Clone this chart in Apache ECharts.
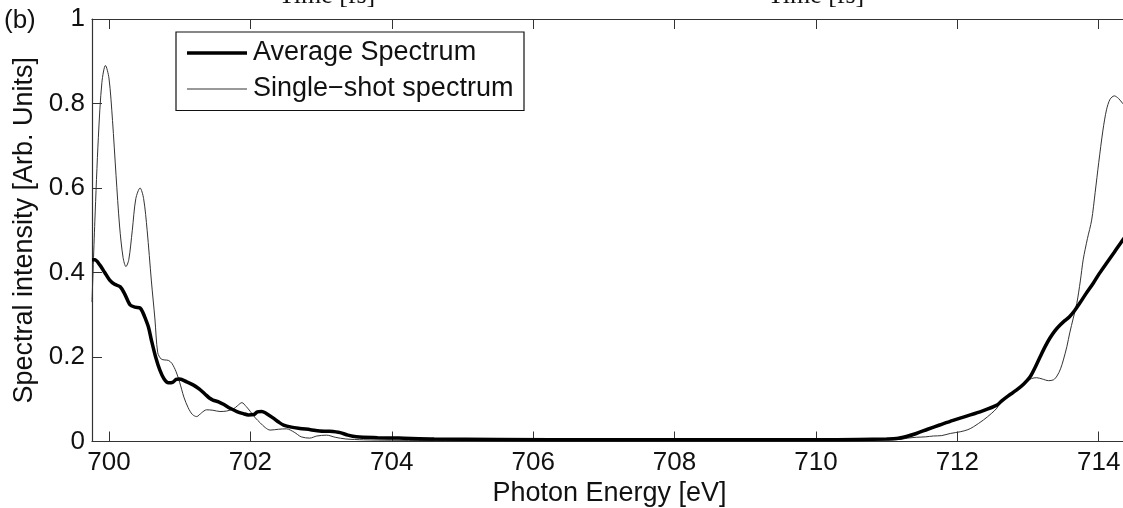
<!DOCTYPE html>
<html>
<head>
<meta charset="utf-8">
<script src="https://cdn.jsdelivr.net/npm/echarts@6/dist/echarts.min.js"></script>
<style>
  html, body { margin: 0; padding: 0; background: #fff; }
  #chart { width: 1123px; height: 508px; }
</style>
</head>
<body>
<div id="chart"></div>
<script>
// Photon energy axis range [eV]
const energyMin = 699.76;
const energyMax = 714.4;

// Average spectrum (thick line)
const avgEnergy = [
  699.76, 699.80, 699.87, 699.94, 700.01, 700.08, 700.16, 700.22, 700.30, 700.37,
  700.44, 700.48, 700.51, 700.56, 700.60, 700.66, 700.72, 700.78, 700.84, 700.90,
  700.95, 701.00, 701.10, 701.19, 701.28, 701.36, 701.42, 701.47, 701.55, 701.62,
  701.72, 701.81, 701.90, 701.97, 702.05, 702.10, 702.16, 702.22, 702.32, 702.40,
  702.47, 702.58, 702.70, 702.85, 702.98, 703.12, 703.27, 703.38, 703.50, 703.80,
  704.10, 704.60, 705.50, 707.00, 709.00, 710.00, 710.60, 711.00, 711.14, 711.28,
  711.42, 711.58, 711.75, 711.94, 712.13, 712.35, 712.56, 712.62, 712.72, 712.84,
  712.94, 713.03, 713.10, 713.17, 713.24, 713.31, 713.38, 713.45, 713.52, 713.59,
  713.66, 713.73, 713.82, 713.92, 714.01, 714.11, 714.22, 714.34, 714.40
];
const avgValues = [
  0.430, 0.430, 0.418, 0.400, 0.382, 0.372, 0.366, 0.350, 0.323, 0.318,
  0.316, 0.305, 0.293, 0.270, 0.240, 0.200, 0.169, 0.148, 0.139, 0.140,
  0.147, 0.148, 0.141, 0.134, 0.124, 0.112, 0.103, 0.098, 0.094, 0.088,
  0.078, 0.071, 0.066, 0.063, 0.064, 0.070, 0.071, 0.067, 0.056, 0.046,
  0.039, 0.034, 0.031, 0.028, 0.025, 0.024, 0.021, 0.015, 0.011, 0.009,
  0.008, 0.006, 0.005, 0.004, 0.004, 0.004, 0.005, 0.006, 0.007, 0.012,
  0.019, 0.029, 0.039, 0.050, 0.060, 0.072, 0.086, 0.095, 0.108, 0.122,
  0.136, 0.153, 0.175, 0.200, 0.224, 0.245, 0.262, 0.275, 0.286, 0.296,
  0.310, 0.327, 0.350, 0.374, 0.398, 0.422, 0.448, 0.477, 0.490
];

// Single-shot spectrum (thin line)
const shotEnergy = [
  699.76, 699.80, 699.85, 699.90, 699.95, 700.00, 700.05, 700.10, 700.15, 700.20,
  700.24, 700.28, 700.33, 700.38, 700.44, 700.49, 700.54, 700.60, 700.65, 700.69,
  700.74, 700.79, 700.84, 700.89, 700.95, 701.00, 701.06, 701.12, 701.18, 701.24,
  701.31, 701.38, 701.47, 701.57, 701.66, 701.76, 701.82, 701.88, 701.94, 702.00,
  702.07, 702.14, 702.21, 702.28, 702.40, 702.51, 702.62, 702.72, 702.84, 702.94,
  703.08, 703.20, 703.35, 703.60, 704.00, 705.00, 707.00, 709.00, 710.50, 711.00,
  711.19, 711.30, 711.42, 711.55, 711.66, 711.78, 711.90, 712.04, 712.15, 712.23,
  712.37, 712.48, 712.56, 712.60, 712.70, 712.81, 712.90, 712.98, 713.05, 713.12,
  713.20, 713.29, 713.36, 713.41, 713.46, 713.50, 713.55, 713.59, 713.64, 713.69,
  713.74, 713.78, 713.84, 713.90, 713.95, 714.00, 714.06, 714.11, 714.16, 714.22,
  714.28, 714.34, 714.40
];
const shotValues = [
  0.330, 0.520, 0.720, 0.850, 0.890, 0.860, 0.760, 0.630, 0.510, 0.435,
  0.414, 0.430, 0.500, 0.575, 0.600, 0.575, 0.500, 0.380, 0.290, 0.210,
  0.195, 0.193, 0.192, 0.185, 0.165, 0.140, 0.105, 0.080, 0.064, 0.059,
  0.068, 0.075, 0.074, 0.071, 0.072, 0.077, 0.085, 0.092, 0.083, 0.071,
  0.056, 0.044, 0.033, 0.027, 0.029, 0.030, 0.022, 0.011, 0.008, 0.013,
  0.015, 0.010, 0.006, 0.004, 0.003, 0.002, 0.002, 0.002, 0.003, 0.004,
  0.005, 0.008, 0.010, 0.011, 0.013, 0.014, 0.019, 0.023, 0.028, 0.035,
  0.051, 0.066, 0.079, 0.090, 0.104, 0.118, 0.131, 0.142, 0.149, 0.151,
  0.148, 0.144, 0.146, 0.155, 0.172, 0.193, 0.225, 0.257, 0.292, 0.327,
  0.380, 0.430, 0.480, 0.524, 0.590, 0.660, 0.737, 0.785, 0.810, 0.818,
  0.812, 0.800, 0.790
];

// Axis ticks
const energyTickStep = 2;
const intensityTicks = [0, 0.2, 0.4, 0.6, 0.8, 1];

// Legend entries and panel captions
const seriesNames = ['Average Spectrum', 'Single\u2212shot spectrum'];
const panelLabel = '(b)';
const upperAxisName = 'Time [fs]';

const pairs = (xs, ys) => xs.map((x, i) => [x, ys[i]]);

const sans = 'Liberation Sans, Arial, Helvetica, sans-serif';
const serif = 'Liberation Serif, Times New Roman, serif';
const axisColor = '#333';
const lineColors = ['#000', '#333'];
const lineWidths = [3.5, 1];

const chart = echarts.init(document.getElementById('chart'), null, { renderer: 'canvas' });

const baseX = {
  type: 'value',
  min: energyMin,
  max: energyMax,
  minInterval: energyTickStep,
  maxInterval: energyTickStep,
  splitNumber: 7,
  splitLine: { show: false },
  axisLine: { show: true, onZero: false, lineStyle: { color: axisColor, width: 1.2 } },
  axisTick: { show: true, inside: true, length: 10, lineStyle: { color: axisColor, width: 1 } }
};

// Boxed legend in the upper-left of the plot
const legendBox = { x: 176, y: 32, w: 348, h: 78.5 };
const legendRows = [53, 89];
const legendGraphic = {
  type: 'group',
  z: 100,
  children: [
    { type: 'rect', shape: { x: legendBox.x, y: legendBox.y, width: legendBox.w, height: legendBox.h },
      style: { fill: '#fff', stroke: '#111', lineWidth: 1.2 } }
  ].concat(seriesNames.flatMap((name, i) => [
    { type: 'line', shape: { x1: 187, y1: legendRows[i], x2: 247, y2: legendRows[i] },
      style: { stroke: lineColors[i], lineWidth: lineWidths[i] } },
    { type: 'text', x: 253, y: legendRows[i],
      style: { text: name, fontFamily: sans, fontSize: 27, fill: '#111', verticalAlign: 'middle' } }
  ]))
};

chart.setOption({
  animation: false,
  backgroundColor: '#fff',
  grid: {
    left: 92, top: 19, right: -4, bottom: 66.5,
    containLabel: false,
    outerBoundsMode: 'none'
  },
  xAxis: [
    Object.assign({}, baseX, {
      position: 'bottom',
      name: 'Photon Energy [eV]',
      nameLocation: 'middle',
      nameGap: 27,
      nameTextStyle: { fontFamily: sans, fontSize: 27, color: '#111' },
      axisLabel: {
        show: true, margin: 8, showMinLabel: false, showMaxLabel: false,
        fontFamily: sans, fontSize: 26, color: '#111',
        formatter: v => String(Math.round(v))
      }
    }),
    Object.assign({}, baseX, {
      position: 'top',
      axisLabel: { show: false }
    })
  ],
  yAxis: {
    type: 'value',
    min: intensityTicks[0],
    max: intensityTicks[intensityTicks.length - 1],
    interval: intensityTicks[1] - intensityTicks[0],
    name: 'Spectral intensity [Arb. Units]',
    nameLocation: 'middle',
    nameGap: 51,
    nameTextStyle: { fontFamily: sans, fontSize: 27, color: '#111' },
    splitLine: { show: false },
    axisLine: { show: true, lineStyle: { color: axisColor, width: 1.2 } },
    axisTick: { show: true, inside: true, length: 10, lineStyle: { color: axisColor, width: 1 } },
    axisLabel: { margin: 7, fontFamily: sans, fontSize: 26, color: '#111' }
  },
  series: [
    {
      name: seriesNames[1],
      type: 'line',
      data: pairs(shotEnergy, shotValues),
      symbol: 'none',
      smooth: 0.3,
      lineStyle: { color: lineColors[1], width: lineWidths[1] },
      z: 2
    },
    {
      name: seriesNames[0],
      type: 'line',
      data: pairs(avgEnergy, avgValues),
      symbol: 'none',
      smooth: 0.3,
      lineStyle: { color: lineColors[0], width: lineWidths[0] },
      z: 3
    }
  ],
  graphic: [
    { type: 'text', left: 4, top: 8, style: { text: panelLabel, fontFamily: sans, fontSize: 26, fill: '#111' } },
    { type: 'text', x: 327, y: 9, style: { text: upperAxisName, fontFamily: serif, fontSize: 26, fill: '#111', align: 'center', verticalAlign: 'bottom' } },
    { type: 'text', x: 816, y: 9, style: { text: upperAxisName, fontFamily: serif, fontSize: 26, fill: '#111', align: 'center', verticalAlign: 'bottom' } },
    legendGraphic
  ]
});
</script>
</body>
</html>
